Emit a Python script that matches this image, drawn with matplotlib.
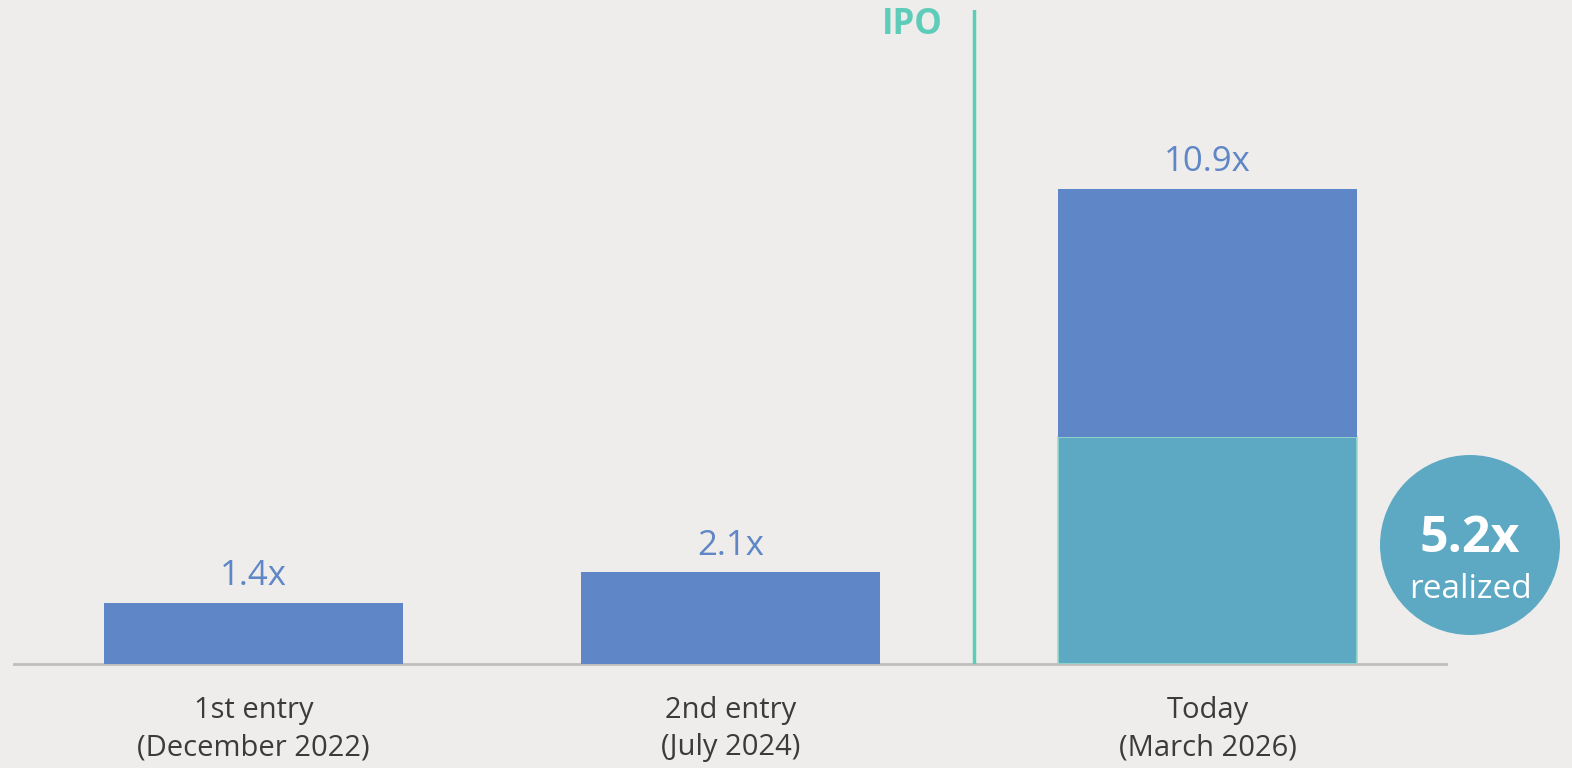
import matplotlib
matplotlib.use("Agg")
import matplotlib.pyplot as plt
from matplotlib.patches import Ellipse

# data
categories = ["1st entry\n(December 2022)", "2nd entry\n(July 2024)", "Today\n(March 2026)"]
total_multiple = [1.4, 2.1, 10.9]
realized_multiple = [0.0, 0.0, 5.2]
value_labels = ["1.4x", "2.1x", "10.9x"]
ipo_position = 1.51
realized_label = "5.2x"

BG = "#EEEDEB"
BLUE = "#5F86C6"
TEAL = "#5DA9C3"
IPO_GREEN = "#5DCDB9"
TEXT = "#3B3B3B"

plt.rcParams["font.family"] = ["Open Sans", "DejaVu Sans"]

fig = plt.figure(figsize=(15.72, 7.68), dpi=100, facecolor=BG)
ax = fig.add_axes([14 / 1572, 1 - 664 / 768, 1432 / 1572, 654 / 768])
ax.set_facecolor(BG)

x = list(range(len(categories)))
unrealized = [t - r for t, r in zip(total_multiple, realized_multiple)]

# realized part (teal) then the rest in blue on top
ax.bar(x, realized_multiple, width=0.627, color=TEAL, edgecolor="#9AD8CC",
       linewidth=1.2, zorder=2)
ax.bar(x, unrealized, bottom=realized_multiple, width=0.627, color=BLUE,
       linewidth=0, zorder=2)

for xi, tot, lab in zip(x, total_multiple, value_labels):
    ax.annotate(lab, (xi, tot), xytext=(0, 7), textcoords="offset points",
                ha="center", va="bottom", fontsize=25, color=BLUE)

# IPO marker
ax.axvline(ipo_position, ymin=0, ymax=1, color=IPO_GREEN, lw=2.5, zorder=3)
ax.annotate("IPO", (ipo_position, 15), xytext=(-44, -11), textcoords="offset points",
            ha="center", va="center", fontsize=25, fontweight="bold", color=IPO_GREEN)

ax.set_xlim(-0.502, 2.5)
ax.set_ylim(0, 15)
ax.set_xticks(x)
ax.set_xticklabels(categories, fontsize=21, color=TEXT, linespacing=1.38)
ax.tick_params(axis="x", length=0, pad=23)
ax.set_yticks([])
for side in ["top", "right", "left"]:
    ax.spines[side].set_visible(False)
ax.spines["bottom"].set_color("#BDBDBD")
ax.spines["bottom"].set_linewidth(2)
ax.spines["bottom"].set_zorder(1)

# realized badge
cx, cy, r = 1470 / 1572, 1 - 545 / 768, 90
fig.add_artist(Ellipse((cx, cy), 2 * r / 1572, 2 * r / 768,
                       transform=fig.transFigure, color=TEAL, lw=0))
fig.text(cx, cy + 6 / 768, realized_label, ha="center", va="center",
         fontsize=36, fontweight="bold", color="white")
fig.text(cx, cy - 45 / 768, "realized", ha="center", va="center",
         fontsize=24, color="white")

fig.savefig("out.png", dpi=100, facecolor=BG)
